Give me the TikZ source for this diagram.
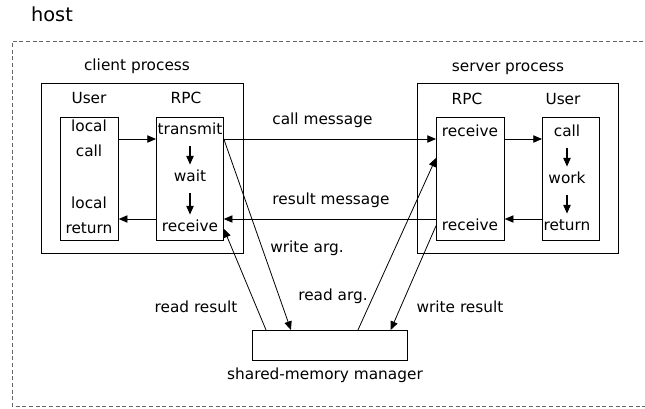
\documentclass[tikz,border=0pt]{standalone}
\usepackage{fontspec}
\setmainfont{DejaVu Sans}
\usetikzlibrary{arrows.meta,calc}

\begin{document}
\begin{tikzpicture}[x=0.75pt,y=-0.75pt,line width=0.6pt,>={Triangle[length=6.5pt,width=5.5pt]}]
	% `procbox' is used for the process frames, `partbox' for the User/RPC columns.
	% `txt' is used for every label, `flow' for the small arrows inside a column.
	\tikzstyle{procbox} = [draw,anchor=north west,inner sep=0pt,minimum height=127.5pt]
	\tikzstyle{partbox} = [draw,anchor=north west,inner sep=0pt,minimum height=92.25pt]
	\tikzstyle{txt} = [inner sep=0pt,text height=8pt,text depth=2pt,font=\fontsize{11.5}{13}\selectfont]
	\tikzstyle{flow} = [->,line width=0.8pt,shorten <=7pt,shorten >=4pt]
	\tikzstyle{hostline} = [black!60,dash pattern=on 3pt off 2pt]
	%
	\useasboundingbox (0,0) rectangle (645,408);
	% Host frame, open on the right.
	\draw[hostline] (650,41) -- (12,41) -- (12,406) -- (650,406);
	\node[txt,font=\fontsize{14.5}{16}\selectfont] (host) at (52,17) {host};
	% Rows of the two message lines.
	\coordinate (row1) at (0,139);
	\coordinate (row2) at (0,219);

	% Client process.
	\node[procbox,minimum width=151.5pt] (client) at (41,83) {};
	\node[partbox,minimum width=43.5pt] (cuser) at (60,117) {};
	\node[partbox,minimum width=50.25pt] (crpc) at (156,117) {};
	\node[txt] (cname) at (137,66) {client process};
	\node[txt] (cuserlbl) at (89,99) {User};
	\node[txt] (crpclbl) at (186,99) {RPC};
	\node[txt] (clocal1) at (89,127) {local};
	\node[txt] (ccall) at (89,152) {call};
	\node[txt] (clocal2) at (89,204) {local};
	\node[txt] (creturn) at (89,229) {return};
	\node[txt] (ctrans) at (190,130) {transmit};
	\node[txt] (cwait) at (190,177) {wait};
	\node[txt] (crecv) at (190,227) {receive};
	\draw[flow] (ctrans) -- (cwait);
	\draw[flow] (cwait) -- (crecv);

	% Server process.
	\node[procbox,minimum width=150.75pt] (server) at (417,83) {};
	\node[partbox,minimum width=51pt] (srpc) at (436,117) {};
	\node[partbox,minimum width=42.75pt] (suser) at (542,117) {};
	\node[txt] (sname) at (508,67) {server process};
	\node[txt] (srpclbl) at (467,100) {RPC};
	\node[txt] (suserlbl) at (563,100) {User};
	\node[txt] (srecv1) at (470,132) {receive};
	\node[txt] (srecv2) at (470,226) {receive};
	\node[txt] (scall) at (567,132) {call};
	\node[txt] (swork) at (567,179) {work};
	\node[txt] (sreturn) at (567,226) {return};
	\draw[flow] (scall) -- (swork);
	\draw[flow] (swork) -- (sreturn);

	% Shared memory.
	\node[draw,anchor=north west,inner sep=0pt,minimum width=116.25pt,minimum height=22.5pt] (smm) at (252,330) {};
	\node[txt] (smmlbl) at (325,375) {shared-memory manager};

	% Calls and returns.
	\draw[->] (cuser.east |- row1) -- (crpc.west |- row1);
	\draw[->] (crpc.west |- row2) -- (cuser.east |- row2);
	\draw[->] (crpc.east |- row1) -- (srpc.west |- row1);
	\draw[->] (srpc.west |- row2) -- (crpc.east |- row2);
	\draw[->] (srpc.east |- row1) -- (suser.west |- row1);
	\draw[->] (suser.west |- row2) -- (srpc.east |- row2);
	\node[txt,anchor=west] (callmsg) at (272,120) {call message};
	\node[txt,anchor=west] (resmsg) at (272,200) {result message};

	% Through the shared memory.
	\draw[->] (crpc.east |- row1) -- ($(smm.north west)!0.25!(smm.north east)$);
	\draw[->] ($(smm.north west)!0.09!(smm.north east)$) -- ([yshift=9pt]crpc.south east);
	\draw[->] ($(smm.north west)!0.68!(smm.north east)$) -- ([yshift=-30.75pt]srpc.north west);
	\draw[->] ([yshift=11.25pt]srpc.south west) -- ($(smm.north west)!0.89!(smm.north east)$);
	\node[txt] (wrarg) at (307,248) {write arg.};
	\node[txt] (rdres) at (196,308) {read result};
	\node[txt] (rdarg) at (333,296) {read arg.};
	\node[txt] (wrres) at (460,308) {write result};
\end{tikzpicture}
\end{document}
